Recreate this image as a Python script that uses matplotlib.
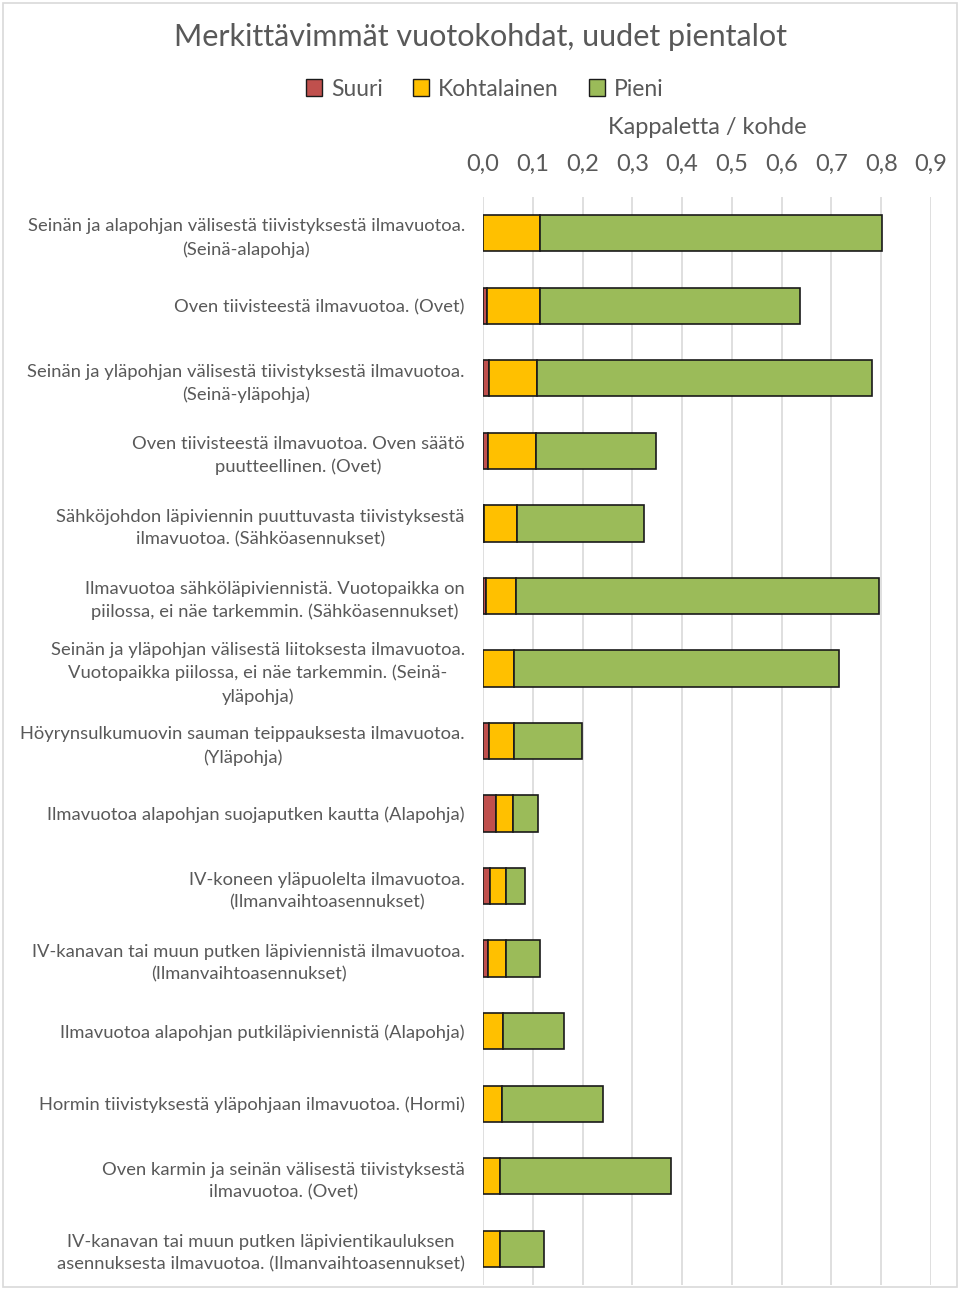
import matplotlib.pyplot as plt
import matplotlib.patches as mpatches
import numpy as np

plt.rcParams['font.family'] = ['Lato', 'DejaVu Sans']

categories = [
    "Seinän ja alapohjan välisestä tiivistyksestä ilmavuotoa.\n(Seinä-alapohja)",
    "Oven tiivisteestä ilmavuotoa. (Ovet)",
    "Seinän ja yläpohjan välisestä tiivistyksestä ilmavuotoa.\n(Seinä-yläpohja)",
    "Oven tiivisteestä ilmavuotoa. Oven säätö\npuutteellinen. (Ovet)",
    "Sähköjohdon läpiviennin puuttuvasta tiivistyksestä\nilmavuotoa. (Sähköasennukset)",
    "Ilmavuotoa sähköläpiviennistä. Vuotopaikka on\npiilossa, ei näe tarkemmin. (Sähköasennukset)",
    "Seinän ja yläpohjan välisestä liitoksesta ilmavuotoa.\nVuotopaikka piilossa, ei näe tarkemmin. (Seinä-\nyläpohja)",
    "Höyrynsulkumuovin sauman teippauksesta ilmavuotoa.\n(Yläpohja)",
    "Ilmavuotoa alapohjan suojaputken kautta (Alapohja)",
    "IV-koneen yläpuolelta ilmavuotoa.\n(Ilmanvaihtoasennukset)",
    "IV-kanavan tai muun putken läpiviennistä ilmavuotoa.\n(Ilmanvaihtoasennukset)",
    "Ilmavuotoa alapohjan putkiläpiviennistä (Alapohja)",
    "Hormin tiivistyksestä yläpohjaan ilmavuotoa. (Hormi)",
    "Oven karmin ja seinän välisestä tiivistyksestä\nilmavuotoa. (Ovet)",
    "IV-kanavan tai muun putken läpivientikauluksen\nasennuksesta ilmavuotoa. (Ilmanvaihtoasennukset)",
]

suuri = [0.0, 0.009, 0.012, 0.011, 0.002, 0.007, 0.0, 0.013, 0.027, 0.015, 0.010, 0.0, 0.0, 0.0, 0.0]
kohtalainen = [0.115, 0.105, 0.096, 0.095, 0.067, 0.060, 0.063, 0.049, 0.034, 0.032, 0.037, 0.041, 0.039, 0.035, 0.034]
pieni = [0.686, 0.522, 0.673, 0.241, 0.254, 0.728, 0.652, 0.136, 0.050, 0.037, 0.067, 0.121, 0.202, 0.343, 0.089]

series_names = ["Suuri", "Kohtalainen", "Pieni"]
colors = ["#C0504D", "#FFC000", "#9BBB59"]
xticks = [0.0, 0.1, 0.2, 0.3, 0.4, 0.5, 0.6, 0.7, 0.8, 0.9]

text_color = "#595959"

fig = plt.figure(figsize=(9.6, 12.9), dpi=100)
ax = fig.add_axes([483 / 960, 5 / 1290, 448 / 960, 1088 / 1290])

y = np.arange(len(categories))
left = np.zeros(len(categories))
for vals, name, col in zip([suuri, kohtalainen, pieni], series_names, colors):
    ax.barh(y, vals, left=left, height=0.5, color=col, edgecolor="#1a1a1a",
            linewidth=1.2, label=name, zorder=3)
    left = left + np.array(vals)

ax.set_ylim(len(categories) - 0.5, -0.5)
ax.set_xlim(0, 0.9)
ax.set_yticks(y)
ax.set_yticklabels(categories, fontsize=13.2, color=text_color,
                   multialignment="center", linespacing=1.5)
ax.tick_params(axis="y", length=0, pad=13)

ax.xaxis.tick_top()
ax.set_xticks(xticks)
ax.set_xticklabels([f"{v:.1f}".replace(".", ",") for v in xticks],
                   fontsize=17, color=text_color)
ax.tick_params(axis="x", length=0, pad=16)
ax.xaxis.set_label_position("top")
ax.set_xlabel("Kappaletta / kohde", fontsize=17, color=text_color, labelpad=14)

ax.grid(axis="x", color="#D9D9D9", linewidth=1.2, zorder=0)
for s in ax.spines.values():
    s.set_visible(False)

fig.text(0.5, 1 - 37 / 1290, "Merkittävimmät vuotokohdat, uudet pientalot",
         ha="center", va="center", fontsize=22, color=text_color)

handles = [mpatches.Patch(facecolor=c, edgecolor="#1a1a1a", linewidth=1.0) for c in colors]
fig.legend(handles, series_names, loc="center", bbox_to_anchor=(0.505, 1 - 89 / 1290),
           ncol=3, frameon=False, fontsize=16.5, labelcolor=text_color,
           handlelength=0.7, handleheight=0.7, handletextpad=0.4, columnspacing=1.3)

fig.patches.append(mpatches.Rectangle((3 / 960, 3 / 1290), 954 / 960, 1284 / 1290,
                                      transform=fig.transFigure, fill=False,
                                      edgecolor="#D9D9D9", linewidth=1.2))

fig.savefig("out.png", dpi=100)
